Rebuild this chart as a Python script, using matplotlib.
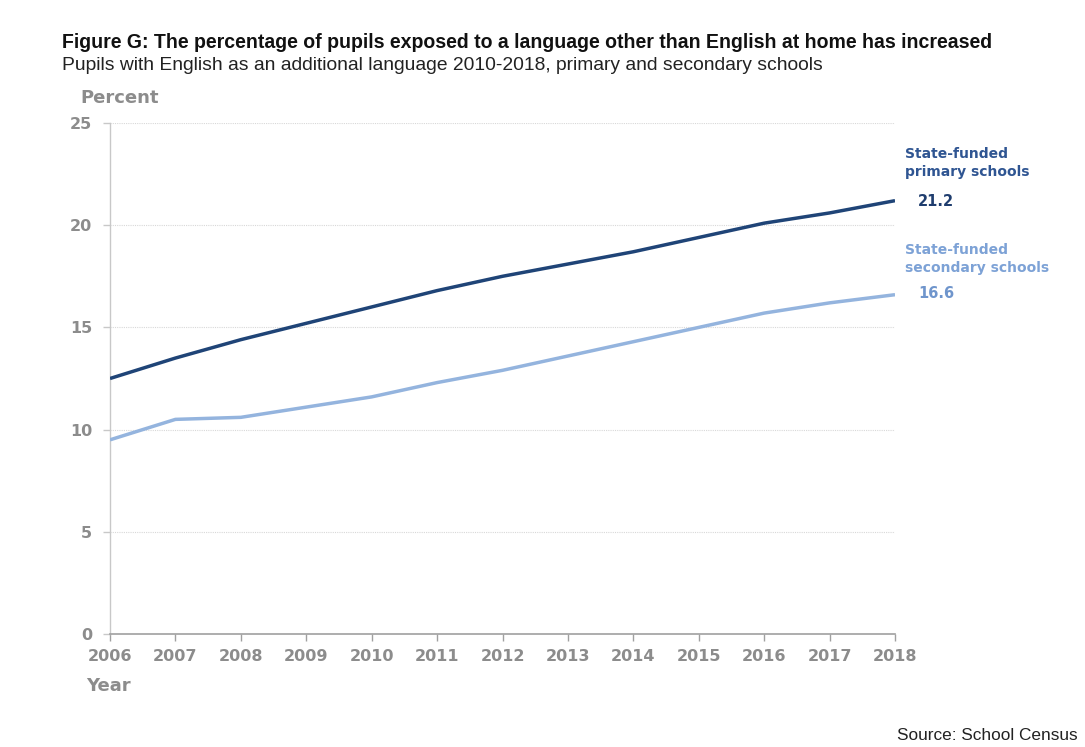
import matplotlib.pyplot as plt

years = list(range(2006, 2019))
primary = [12.5, 13.5, 14.4, 15.2, 16.0, 16.8, 17.5, 18.1, 18.7, 19.4, 20.1, 20.6, 21.2]
secondary = [9.5, 10.5, 10.6, 11.1, 11.6, 12.3, 12.9, 13.6, 14.3, 15.0, 15.7, 16.2, 16.6]
yticks = [0, 5, 10, 15, 20, 25]

plt.rcParams['font.family'] = ['Liberation Sans', 'DejaVu Sans']

W, H = 1085, 747
fig = plt.figure(figsize=(W / 100, H / 100), dpi=100)
ax = fig.add_axes([110 / W, 1 - 634 / H, (895 - 110) / W, (634 - 123) / H])

c_prim = '#1f4477'
c_sec = '#94b4de'
grey = '#8c8c8c'

ax.plot(years, primary, color=c_prim, lw=2.5, solid_capstyle='butt', zorder=3)
ax.plot(years, secondary, color=c_sec, lw=2.5, solid_capstyle='butt', zorder=3)

ax.set_xlim(2006, 2018)
ax.set_ylim(0, 25)
ax.set_xticks(years)
ax.set_yticks(yticks)
for y in yticks[1:]:
    ax.axhline(y, color='#d8d8d8', lw=0.8, ls=(0, (1, 1)), zorder=1)

for s in ['top', 'right']:
    ax.spines[s].set_visible(False)
ax.spines['left'].set_color('#c8c8c8')
ax.spines['bottom'].set_color('#a0a0a0')
ax.spines['left'].set_linewidth(1.0)
ax.spines['bottom'].set_linewidth(1.2)
ax.tick_params(axis='x', colors='#a0a0a0', length=5, width=1, pad=6,
               labelcolor=grey)
ax.tick_params(axis='y', colors='#c8c8c8', length=5, width=1, pad=8,
               labelcolor=grey)
for lab in ax.get_xticklabels() + ax.get_yticklabels():
    lab.set_fontweight('bold')
    lab.set_fontfamily(['DejaVu Sans'])
    lab.set_fontsize(11.5)

fig.text(62 / W, 1 - 43 / H, 'Figure G: The percentage of pupils exposed to a language other than English at home has increased',
         fontsize=14.05, fontweight='bold', color='#111111', va='center', ha='left')
fig.text(62 / W, 1 - 66 / H, 'Pupils with English as an additional language 2010-2018, primary and secondary schools',
         fontsize=13.9, color='#222222', va='center', ha='left')
fig.text(80 / W, 1 - 98 / H, 'Percent', fontsize=13, fontweight='bold', color=grey,
         va='center', ha='left', family=['DejaVu Sans'])
fig.text(86 / W, 1 - 686 / H, 'Year', fontsize=13, fontweight='bold', color=grey,
         va='center', ha='left', family=['DejaVu Sans'])
fig.text(1078 / W, 1 - 735 / H, 'Source: School Census', fontsize=12.4, color='#222222',
         va='center', ha='right')

fig.text(905 / W, 1 - 163 / H, 'State-funded\nprimary schools', fontsize=10, fontweight='bold',
         color='#2f5592', va='center', ha='left', linespacing=1.3, family=['DejaVu Sans'])
fig.text(918 / W, 1 - 201 / H, f'{primary[-1]:.1f}', fontsize=10.5, fontweight='bold',
         color='#1f3d6e', va='center', ha='left', family=['DejaVu Sans'])
fig.text(905 / W, 1 - 259 / H, 'State-funded\nsecondary schools', fontsize=10, fontweight='bold',
         color='#7da2d6', va='center', ha='left', linespacing=1.3, family=['DejaVu Sans'])
fig.text(918 / W, 1 - 294 / H, f'{secondary[-1]:.1f}', fontsize=10.5, fontweight='bold',
         color='#6f95cc', va='center', ha='left', family=['DejaVu Sans'])

fig.savefig('out.png', dpi=100, facecolor='white')
